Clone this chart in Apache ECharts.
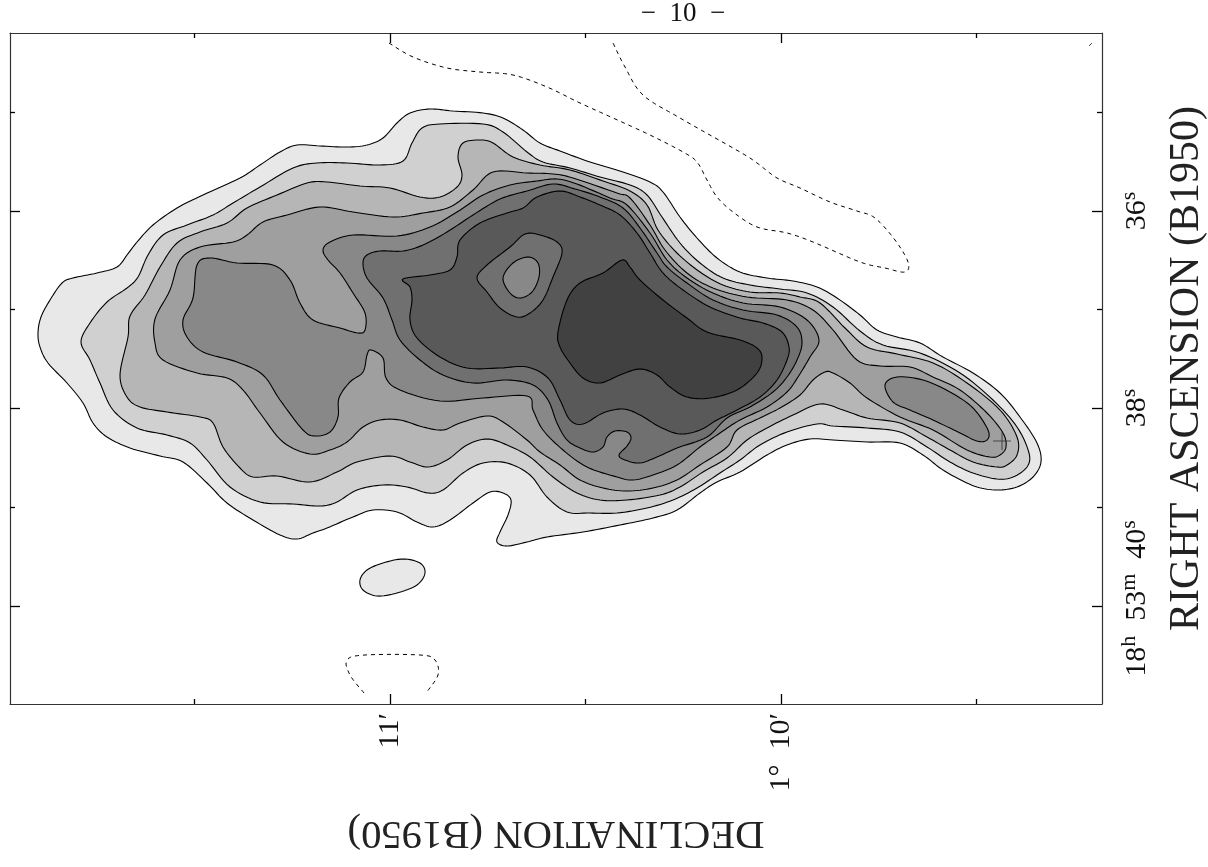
<!DOCTYPE html>
<html><head><meta charset="utf-8">
<style>html,body{margin:0;padding:0;background:#fff;overflow:hidden}#c{width:1208px;height:867px}</style>
<script src="https://cdn.jsdelivr.net/npm/echarts@6/dist/echarts.min.js"></script>
</head><body><div id="c"></div>
<script>
// Sky-plane axis units: x = declination offset (391 units per arcmin), y = right-ascension offset (98.5 units per second)
const decMajor=[390,781], decMinor=[194,585,976];
const raMajor=[211,408,606], raMinor=[112,309,507];
const decLabels={390:"11′",781:"1°  10′"};
const raLabels={211:"{n|36}{s|s}",408:"{n|38}{s|s}",606:"{n|  18}{s|h}{n|  53}{s|m}{n|  40}{s|s}"};
const greys=["#e8e8e8","#e8e8e8","#d0d0d0","#b6b6b6","#9f9f9f","#888888","#888888","#707070","#595959","#414141","#707070","#888888"];

const level1=[[38,333],[41,317],[50,300],[62,283],[73,278],[97,273],[117,267],[127,255],[137,242],[153,225],[177,208],[203,195],[240,178],[260,165],[280,152],[297,145],[320,146],[347,147],[367,145],[383,138],[397,123],[410,113],[430,109],[453,111],[483,113],[503,118],[523,130],[540,143],[560,151],[590,162],[623,172],[650,182],[663,192],[680,217],[697,238],[717,258],[740,272],[767,278],[793,281],[817,287],[837,298],[860,315],[877,330],[897,337],[920,343],[943,357],[973,373],[1000,393],[1020,417],[1037,443],[1041,462],[1033,477],[1017,487],[997,490],[977,487],[957,478],[940,468],[923,455],[900,443],[867,442],[833,440],[810,439],[787,445],[767,455],[740,472],[717,482],[700,493],[677,510],[653,518],[620,525],[583,532],[547,537],[527,542],[507,546],[497,542],[500,532],[508,515],[511,500],[503,493],[490,492],[473,503],[450,520],[433,527],[417,522],[397,512],[373,510],[353,517],[327,528],[313,533],[297,539],[280,535],[253,520],[227,503],[207,483],[183,462],[160,456],[130,448],[107,437],[93,423],[83,403],[67,383],[48,363],[40,347]];
const level1Island=[[360,580],[367,570],[383,563],[403,559],[420,563],[425,573],[417,585],[397,593],[377,596],[363,590]];
const level2=[[81,342],[90,323],[107,302],[127,288],[138,277],[148,255],[163,235],[187,225],[213,215],[233,203],[260,187],[293,168],[317,163],[347,163],[380,165],[403,161],[412,143],[422,128],[440,124],[483,124],[503,132],[527,152],[543,162],[570,168],[600,177],[630,185],[647,195],[662,217],[680,243],[700,263],[723,278],[750,285],[780,289],[807,293],[833,307],[860,331],[883,345],[920,353],[960,373],[993,400],[1017,427],[1029,453],[1027,467],[1013,477],[997,479],[973,473],[950,462],[927,447],[900,432],[867,428],[833,426],[817,424],[787,432],[760,445],[740,460],[720,473],[697,488],[673,500],[647,508],[617,513],[590,513],[567,512],[547,497],[530,475],[507,463],[483,463],[463,473],[443,490],[428,493],[407,487],[383,485],[357,490],[337,502],[320,506],[293,504],[260,502],[230,487],[207,460],[190,443],[167,435],[137,428],[113,410],[100,383],[90,360]];
const level3=[[120,375],[128,337],[130,316],[145,295],[160,267],[177,243],[200,232],[227,223],[247,208],[277,195],[307,183],[327,182],[360,186],[390,188],[420,197],[440,197],[457,187],[462,175],[458,157],[463,143],[480,140],[493,143],[513,157],[540,165],[570,170],[603,181],[630,191],[647,205],[658,230],[677,253],[700,272],[723,285],[750,292],[780,293],[800,297],[820,303],[845,328],[867,347],[897,354],[933,363],[967,383],[1000,410],[1017,437],[1017,455],[1007,465],[997,467],[973,462],[950,450],[927,437],[900,423],[867,418],[843,410],[820,404],[793,415],[767,428],[747,440],[727,458],[703,472],[680,487],[660,495],[627,500],[600,500],[577,493],[553,477],[530,457],[507,445],[487,439],[467,445],[447,460],[428,467],[410,462],[390,456],[357,462],[337,472],[310,482],[277,476],[253,477],[240,468],[223,447],[213,423],[200,417],[167,412],[140,407],[127,397]];
const level4=[[155,319],[170,290],[180,260],[200,247],[233,242],[247,235],[263,222],[287,215],[320,207],[353,212],[393,217],[423,213],[450,207],[473,190],[493,172],[527,173],[553,174],[573,178],[617,193],[630,198],[650,225],[665,250],[687,273],[713,288],[747,297],[787,300],[813,310],[833,330],[857,360],[880,366],[910,367],[933,377],[960,390],[987,413],[1003,433],[1006,447],[1000,455],[990,457],[967,450],[933,430],[900,417],[867,398],[850,383],[833,373],[825,372],[813,380],[800,395],[780,408],[760,418],[737,430],[727,447],[700,465],[677,480],[653,488],[627,491],[603,488],[580,480],[560,465],[540,452],[527,440],[503,422],[487,416],[460,423],[443,430],[423,427],[400,420],[380,420],[363,427],[347,442],[330,450],[310,454],[283,442],[260,413],[243,390],[227,378],[197,373],[163,360],[155,343]];
const level5=[[183,320],[193,298],[197,265],[210,258],[237,263],[273,265],[290,280],[300,303],[313,320],[340,328],[358,333],[365,330],[365,313],[353,293],[340,273],[328,260],[323,250],[330,242],[353,235],[397,236],[430,227],[457,212],[483,195],[510,185],[537,181],[557,179],[577,184],[610,198],[627,205],[650,233],[667,260],[687,278],[713,293],[743,303],[780,307],[807,320],[819,340],[810,357],[798,377],[787,392],[767,407],[740,420],[720,433],[700,447],[677,465],[653,475],[633,480],[617,477],[587,467],[563,450],[543,430],[533,410],[527,396],[483,398],[440,401],[400,390],[386,378],[383,358],[371,350],[367,355],[363,372],[350,382],[339,398],[338,417],[330,432],[315,436],[303,430],[280,400],[263,375],[237,362],[203,352],[187,337]];
const level5Tail=[[885,385],[897,377],[923,380],[950,392],[973,408],[988,430],[987,440],[977,441],[960,433],[933,420],[910,410],[893,402]];
const level6=[[363,263],[367,255],[380,251],[403,251],[423,245],[447,232],[473,215],[500,199],[527,191],[553,184],[575,189],[600,197],[623,208],[640,228],[657,253],[667,267],[687,283],[713,300],[743,310],[777,315],[797,327],[802,343],[797,360],[787,377],[773,392],[750,407],[727,418],[707,437],[677,448],[657,457],[640,463],[625,460],[619,455],[627,446],[631,438],[627,432],[615,431],[607,437],[603,447],[593,452],[580,448],[567,440],[557,423],[548,400],[533,385],[507,380],[473,383],[443,375],[420,360],[400,340],[392,320],[383,298],[367,278]];
const level7=[[403,279],[430,275],[450,270],[457,257],[460,240],[480,223],[507,213],[523,208],[537,197],[560,191],[580,197],[600,205],[620,215],[637,233],[650,253],[663,273],[683,290],[710,307],[740,318],[763,323],[782,332],[789,347],[787,360],[777,380],[760,397],[737,410],[717,420],[700,430],[680,434],[660,427],[640,415],[623,409],[603,413],[583,424],[570,420],[560,400],[548,378],[527,367],[500,368],[467,368],[440,357],[417,338],[410,320],[412,300],[410,287]];
const level8=[[558,332],[567,300],[580,283],[603,273],[622,260],[630,267],[640,280],[663,300],[687,318],[707,332],[740,340],[757,348],[762,358],[757,373],[737,390],[710,398],[687,397],[670,387],[657,375],[640,369],[620,375],[600,383],[583,378],[570,363],[560,347]];
const holeRing=[[477,278],[487,265],[510,247],[525,234],[540,235],[557,242],[562,253],[553,277],[543,300],[530,313],[517,317],[500,308],[487,292]];
const holeCore=[[503,278],[513,263],[528,257],[538,263],[539,277],[532,292],[520,298],[510,293]];
const negativeMain=[[389,43],[413,57],[447,68],[480,72],[513,75],[547,87],[580,103],[613,118],[650,135],[683,152],[697,162],[707,180],[717,197],[733,212],[757,227],[787,233],[813,242],[860,262],[885,268],[905,272],[908,262],[895,240],[875,218],[857,211],[830,202],[800,188],[777,178],[757,163],[740,152],[680,118],[643,95],[625,67],[613,43]];
const negativeCorner=[[1089,46],[1092,43]];
const negativeLower=[[364,693],[350,675],[347,660],[365,655],[420,655],[435,660],[438,675],[426,693]];
const crossMark=[[1002,441]];

const filled=[level1,level1Island,level2,level3,level4,level5,level5Tail,level6,level7,level8,holeRing,holeCore];

// Catmull-Rom curve through already-scaled points (rendering only; the read values stay in the arrays above)
function curve(pts,closed){
  const n=pts.length,out=[];
  const at=i=>closed?pts[(i+n)%n]:pts[Math.max(0,Math.min(n-1,i))];
  const last=closed?n:n-1;
  for(let i=0;i<last;i++){
    const a=at(i-1),b=at(i),c=at(i+1),d=at(i+2);
    for(let k=0;k<8;k++){
      const t=k/8,t2=t*t,t3=t2*t;
      out.push([0,1].map(j=>0.5*(2*b[j]+(c[j]-a[j])*t+(2*a[j]-5*b[j]+4*c[j]-d[j])*t2+(3*b[j]-a[j]-3*c[j]+d[j])*t3)));
    }
  }
  if(!closed)out.push(pts[n-1]);
  return out;
}

const serif="'Liberation Serif','DejaVu Serif',serif";
const ink="#000";
const xBase={type:'value',min:10,max:1102,splitLine:{show:false}};
const yBase={type:'value',min:33,max:704,inverse:true,splitLine:{show:false}};
const line={show:true,onZero:false,lineStyle:{color:"#333",width:1.2}};
const noLine={show:false,onZero:false};
const noLabel={show:false};
function ticks(values,len){return {show:true,inside:true,length:len,customValues:values,lineStyle:{color:ink,width:1.3}};}

const option={
  animation:false,
  backgroundColor:"#fff",
  title:{text:"−  10  −",left:678,top:-5,textAlign:'center',textStyle:{fontFamily:serif,fontSize:27,fontWeight:'normal',color:"#111"}},
  grid:{left:10,top:33,width:1092,height:671,containLabel:false,outerBoundsMode:'none'},
  xAxis:[
    {...xBase,position:'bottom',axisLine:line,axisTick:ticks(decMajor,10),
      axisLabel:{show:true,customValues:decMajor,rotate:90,margin:9,fontFamily:serif,fontSize:30,color:"#111",align:'right',verticalAlign:'middle',padding:[0,0,10,0],formatter:v=>decLabels[v]||""},
      name:"DECLINATION (B1950)",nameLocation:'middle',nameRotate:180,nameGap:108,nameTextStyle:{fontFamily:serif,fontSize:40.7,color:"#222"}},
    {...xBase,position:'bottom',axisLine:noLine,axisTick:ticks(decMinor,5),axisLabel:noLabel},
    {...xBase,position:'top',axisLine:line,axisTick:ticks(decMajor,10),axisLabel:noLabel},
    {...xBase,position:'top',axisLine:noLine,axisTick:ticks(decMinor,5),axisLabel:noLabel}
  ],
  yAxis:[
    {...yBase,position:'left',axisLine:line,axisTick:ticks(raMajor,10),axisLabel:noLabel},
    {...yBase,position:'left',axisLine:noLine,axisTick:ticks(raMinor,5),axisLabel:noLabel},
    {...yBase,position:'right',axisLine:line,axisTick:ticks(raMajor,10),
      axisLabel:{show:true,customValues:raMajor,rotate:90,margin:16,align:'center',verticalAlign:'top',formatter:v=>raLabels[v]||"",
        rich:{n:{fontFamily:serif,fontSize:30,color:"#111",lineHeight:34,verticalAlign:'bottom'},s:{fontFamily:serif,fontSize:22,color:"#111",lineHeight:34,verticalAlign:'top'}}},
      name:"RIGHT ASCENSION (B1950)",nameLocation:'middle',nameRotate:90,nameGap:64,nameTextStyle:{fontFamily:serif,fontSize:42,color:"#222"}},
    {...yBase,position:'right',axisLine:noLine,axisTick:ticks(raMinor,5),axisLabel:noLabel}
  ],
  series:[
    {type:'custom',coordinateSystem:'cartesian2d',clip:false,silent:true,z:2,
      data:filled.map((c,i)=>[c[0][0],c[0][1],i]),
      encode:{x:0,y:1},
      renderItem:(params,api)=>{
        const i=api.value(2);
        return {type:'polygon',shape:{points:curve(filled[i].map(p=>api.coord(p)),true)},
          style:{fill:greys[i],stroke:ink,lineWidth:1.1}};
      }},
    {type:'custom',coordinateSystem:'cartesian2d',clip:false,silent:true,z:3,
      data:[negativeMain,negativeCorner,negativeLower].map((c,i)=>[c[0][0],c[0][1],i]),
      encode:{x:0,y:1},
      renderItem:(params,api)=>{
        const c=[negativeMain,negativeCorner,negativeLower][api.value(2)];
        return {type:'polyline',shape:{points:curve(c.map(p=>api.coord(p)),false)},
          style:{fill:null,stroke:ink,lineWidth:1,lineDash:[4,4]}};
      }},
    {type:'scatter',data:crossMark,silent:true,z:4,symbol:'path://M0,9H18M9,0V18',symbolSize:18,
      itemStyle:{color:'none',borderColor:"#333",borderWidth:1}}
  ]
};
echarts.init(document.getElementById('c'),null,{renderer:'canvas'}).setOption(option);
</script></body></html>
